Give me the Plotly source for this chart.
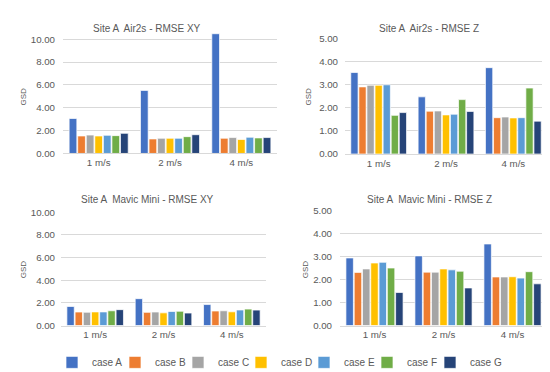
import plotly.graph_objects as go

categories = ["1 m/s", "2 m/s", "4 m/s"]
cases = ["case A", "case B", "case C", "case D", "case E", "case F", "case G"]
colors = ["#4472C4", "#ED7D31", "#A5A5A5", "#FFC000", "#5B9BD5", "#70AD47", "#264478"]

# values per case: [1 m/s, 2 m/s, 4 m/s]
air2s_xy = [
    [3.06, 5.52, 10.48],
    [1.53, 1.27, 1.33],
    [1.61, 1.33, 1.39],
    [1.53, 1.33, 1.22],
    [1.59, 1.33, 1.42],
    [1.56, 1.47, 1.36],
    [1.76, 1.64, 1.39],
]
air2s_z = [
    [3.52, 2.47, 3.73],
    [2.90, 1.85, 1.57],
    [2.97, 1.86, 1.60],
    [2.97, 1.69, 1.56],
    [2.99, 1.72, 1.57],
    [1.67, 2.35, 2.85],
    [1.79, 1.84, 1.42],
]
mavic_xy = [
    [1.68, 2.37, 1.85],
    [1.19, 1.16, 1.28],
    [1.17, 1.19, 1.30],
    [1.20, 1.12, 1.21],
    [1.20, 1.24, 1.37],
    [1.30, 1.26, 1.45],
    [1.40, 1.10, 1.36],
]
mavic_z = [
    [2.95, 3.04, 3.56],
    [2.32, 2.33, 2.12],
    [2.47, 2.33, 2.12],
    [2.73, 2.47, 2.13],
    [2.76, 2.43, 2.07],
    [2.51, 2.37, 2.35],
    [1.44, 1.64, 1.82],
]

titles = ["Site A  Air2s - RMSE XY", "Site A  Air2s - RMSE Z",
          "Site A  Mavic Mini - RMSE XY", "Site A  Mavic Mini - RMSE Z"]
panels = [air2s_xy, air2s_z, mavic_xy, mavic_z]
# (axis max, tick step, highest tick)
yranges = [(10.55, 2, 10), (5, 1, 5), (10, 2, 10), (5, 1, 5)]

W, H = 550, 372
# pixel geometry of plot areas: (x0, x1, ytop, ybottom)
geo = [(55, 269, 19.5, 143.7), (337, 539, 25, 144.3), (53, 258, 204.3, 321), (332, 539, 203, 321)]
title_pos = [(139, 15), (421, 15), (139, 191), (421, 191)]
gsd_x = [15, 300, 15, 297]
gsd_mid = [85, 85, 263, 263]
standoff = [7, 6, 5, 7]

FONT = "Liberation Sans, Arial, sans-serif"
TXT = "#595959"

LEG_X0 = 44
LEG_STEP = 63
leg_names = ["legend"] + [f"legend{k}" for k in range(2, len(cases) + 1)]

fig = go.Figure()
layout = {}
annotations = []
for p, data in enumerate(panels):
    xa = "x" if p == 0 else f"x{p+1}"
    ya = "y" if p == 0 else f"y{p+1}"
    for i, case in enumerate(cases):
        fig.add_trace(go.Bar(
            x=categories, y=data[i], name=case, xaxis=xa, yaxis=ya,
            marker=dict(color=colors[i], line=dict(color="white", width=0.7)),
            legendgroup=case, showlegend=(p == 0), legend=leg_names[i],
        ))
    x0, x1, yt, yb = geo[p]
    ymax, dt, tmax = yranges[p]
    key = "" if p == 0 else str(p + 1)
    tv = [k * dt for k in range(int(round(tmax / dt)) + 1)]
    layout["xaxis" + key] = dict(
        domain=[x0 / W, x1 / W], anchor=ya, showgrid=False, showline=True,
        linecolor="#D9D9D9", linewidth=1, ticks="", tickfont=dict(size=9.7, color=TXT, family=FONT),
        fixedrange=True,
    )
    layout["yaxis" + key] = dict(
        domain=[1 - yb / H, 1 - yt / H], anchor=xa, range=[0, ymax],
        tickmode="array", tickvals=tv, ticktext=[f"{v:.2f}" for v in tv],
        showgrid=True, gridcolor="#D9D9D9", gridwidth=1,
        zeroline=False, showline=False, ticks="", ticklabelstandoff=standoff[p],
        tickfont=dict(size=9.7, color=TXT, family=FONT),
    )
    tx, ty = title_pos[p]
    annotations.append(dict(text=titles[p], x=tx / W, y=1 - ty / H, xref="paper", yref="paper",
                            showarrow=False, font=dict(size=10, color=TXT, family=FONT),
                            xanchor="center", yanchor="middle"))
    annotations.append(dict(text="GSD", x=gsd_x[p] / W, y=1 - gsd_mid[p] / H, xref="paper", yref="paper",
                            showarrow=False, textangle=-90, font=dict(size=8, color=TXT, family=FONT),
                            xanchor="center", yanchor="middle"))

legfont = dict(size=10, color=TXT, family=FONT)
for k, ln in enumerate(leg_names):
    layout[ln] = dict(orientation="h", x=(LEG_X0 + k * LEG_STEP) / W, xanchor="left",
                      y=1 - 359 / H, yanchor="middle", font=legfont, itemwidth=30,
                      bgcolor="rgba(0,0,0,0)")

fig.update_layout(
    **layout,
    annotations=annotations,
    width=W, height=H,
    margin=dict(l=0, r=0, t=0, b=0),
    paper_bgcolor="white", plot_bgcolor="white",
    barmode="group", bargap=0.16, bargroupgap=0.1,
    font=dict(family=FONT, color=TXT),
)

fig.write_html("out.html")
